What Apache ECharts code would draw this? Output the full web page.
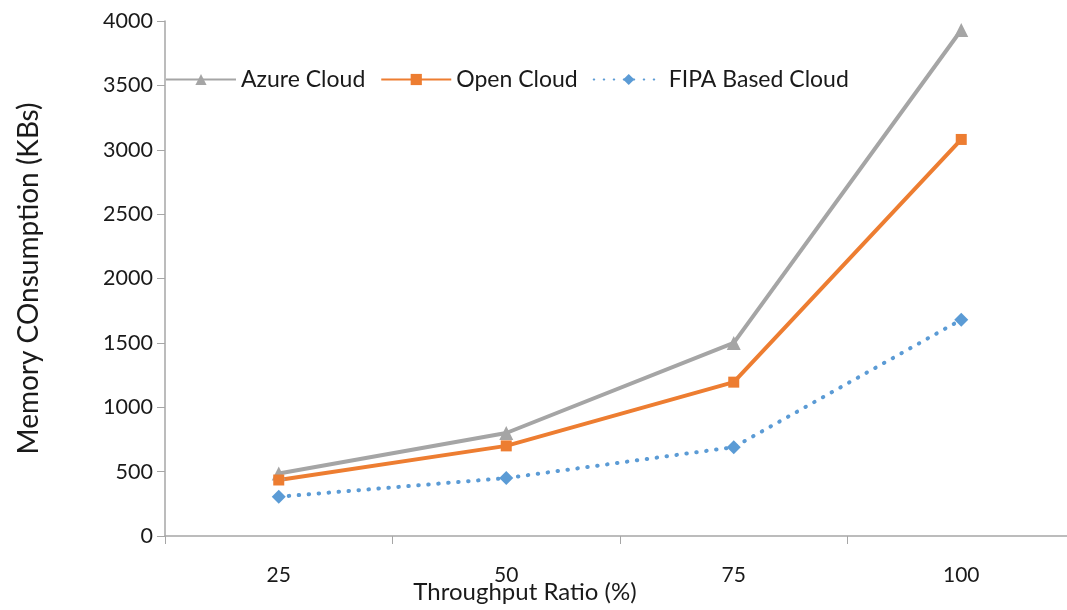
<!DOCTYPE html>
<html>
<head>
<meta charset="utf-8">
<script src="https://cdn.jsdelivr.net/npm/echarts@6/dist/echarts.min.js"></script>
<style>
  html, body { margin: 0; padding: 0; background: #fff; }
  #chart { width: 1067px; height: 610px; }
</style>
</head>
<body>
<div id="chart"></div>
<script>
// Throughput ratio categories (%)
const categories = ['25', '50', '75', '100'];
// Memory consumption in KBs for each cloud platform
const azureCloud = [485, 800, 1500, 3930];
const openCloud = [435, 700, 1195, 3080];
const fipaCloud = [305, 450, 690, 1680];

const FONT = 'Lato, "Open Sans", sans-serif';
const AXIS_GREY = '#a6a6a6';

const chart = echarts.init(document.getElementById('chart'));
chart.setOption({
  backgroundColor: '#ffffff',
  animation: false,
  grid: {
    left: 165, top: 21, width: 910, height: 515,
    containLabel: false, outerBoundsMode: 'none'
  },
  legend: {
    left: 160, top: 63,
    itemWidth: 70, itemHeight: 14, itemGap: 15,
    textStyle: { fontFamily: FONT, fontSize: 23, color: '#1a1a1a' },
    data: ['Azure Cloud', 'Open Cloud', 'FIPA Based Cloud']
  },
  xAxis: {
    type: 'category',
    data: categories,
    boundaryGap: true,
    name: 'Throughput Ratio (%)',
    nameLocation: 'middle',
    nameGap: 44,
    nameMoveOverlap: false,
    nameTextStyle: { fontFamily: FONT, fontSize: 24, color: '#1a1a1a', padding: [0, 190, 0, 0] },
    axisLine: { lineStyle: { color: AXIS_GREY, width: 1.5 } },
    axisTick: { show: true, alignWithLabel: false, length: 8, lineStyle: { color: AXIS_GREY } },
    axisLabel: { fontFamily: FONT, fontSize: 21, color: '#1a1a1a', margin: 29 },
    splitLine: { show: false }
  },
  yAxis: {
    type: 'value',
    min: 0, max: 4000, interval: 500,
    name: 'Memory COnsumption (KBs)',
    nameLocation: 'middle',
    nameGap: 122,
    nameRotate: 90,
    nameMoveOverlap: false,
    nameTextStyle: { fontFamily: FONT, fontSize: 28, color: '#1a1a1a' },
    axisLine: { show: true, lineStyle: { color: AXIS_GREY, width: 1.5 } },
    axisTick: { show: true, length: 8, lineStyle: { color: AXIS_GREY } },
    axisLabel: {
      fontFamily: FONT, fontSize: 21.5, color: '#1a1a1a', margin: 12,
      formatter: v => String(v)
    },
    splitLine: { show: false }
  },
  series: [
    {
      name: 'Azure Cloud', type: 'line', data: azureCloud,
      symbol: 'triangle', symbolSize: 14,
      lineStyle: { color: '#a5a5a5', width: 4 },
      itemStyle: { color: '#a5a5a5' }
    },
    {
      name: 'Open Cloud', type: 'line', data: openCloud,
      symbol: 'rect', symbolSize: 11,
      lineStyle: { color: '#ed7d31', width: 4 },
      itemStyle: { color: '#ed7d31' }
    },
    {
      name: 'FIPA Based Cloud', type: 'line', data: fipaCloud,
      symbol: 'diamond', symbolSize: 14,
      lineStyle: { color: '#5b9bd5', width: 4, type: [0.5, 9.5], cap: 'round' },
      itemStyle: { color: '#5b9bd5' }
    }
  ]
});
</script>
</body>
</html>
